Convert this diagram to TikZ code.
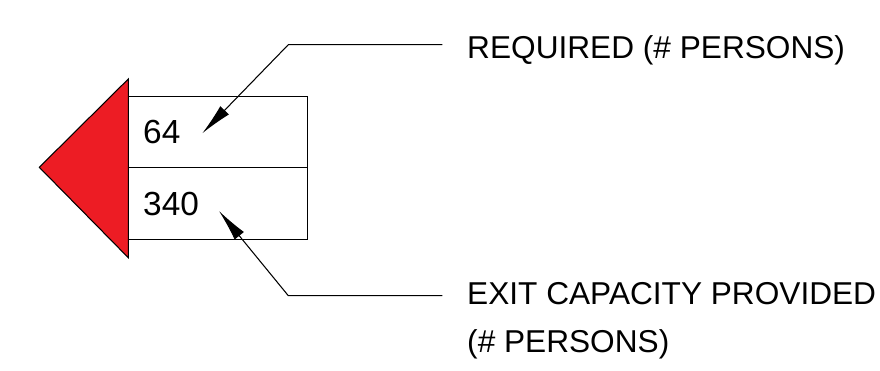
\documentclass[tikz,border=0pt]{standalone}
\usepackage{fontspec}
\setmainfont{Liberation Sans}
\usetikzlibrary{arrows.meta,positioning}

\definecolor{exitred}{RGB}{237,28,36}

\begin{document}
\begin{tikzpicture}[x=0.02cm,y=-0.02cm,>={Latex[length=0.64cm,width=0.24cm]},line width=0.6pt]
        \tikzset{cell/.style= {draw, rectangle, align=left, inner xsep=0.3cm, text width=2.98cm, outer sep=0pt,
                minimum width=3.58cm, minimum height=1.43cm, font=\fontsize{19}{22}\selectfont},
        note/.style={anchor=base west, inner sep=0pt, font=\fontsize{18}{22}\selectfont},
        }
        \useasboundingbox (0,0) rectangle (880,371);
        \node[cell] (req) at (217.7,132.2) {64};
        \node[cell, below =0pt of req] (cap) {340};
        \node[note] (reqtxt) at (466.7,59) {REQUIRED (\# PERSONS)};
        \node[note] (captxt) at (466.7,305) {EXIT CAPACITY PROVIDED};
        \node[note] (captxtb) at (466.7,353) {(\# PERSONS)};
        \coordinate (reqend) at (442.3,44.7);
        \coordinate (reqbend) at (288.3,44.7);
        \coordinate (reqtip) at (202.3,133.3);
        \coordinate (capend) at (442.3,295.7);
        \coordinate (capbend) at (288.3,295.7);
        \coordinate (captip) at (219,211);

%% arrow head
        \filldraw[fill=exitred] (128.3,79) -- (39.3,167.3) -- (128.3,257.7) -- cycle;

%% paths
        \path[draw,->] (reqend) -- (reqbend) -- (reqtip);
        \path[draw,->] (capend) -- (capbend) -- (captip);
 \end{tikzpicture}
\end{document}
